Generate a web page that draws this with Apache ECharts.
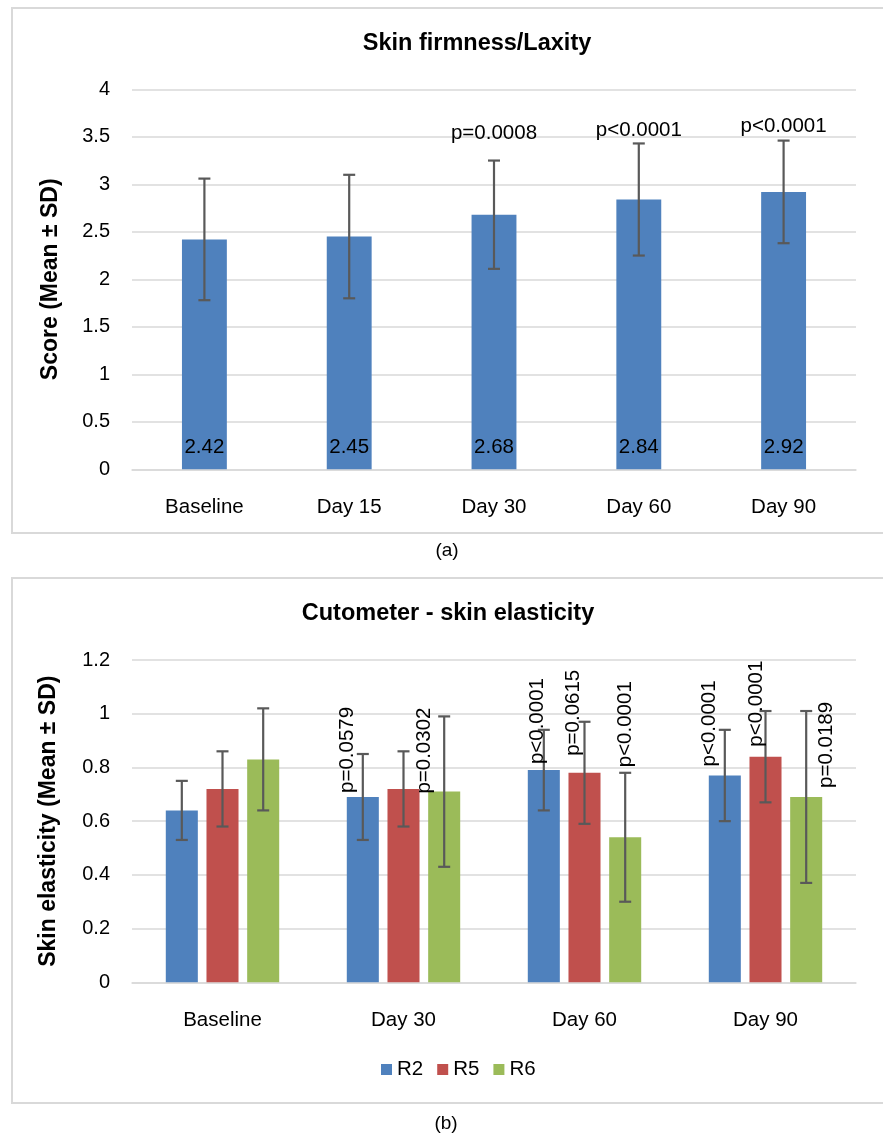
<!DOCTYPE html>
<html>
<head>
<meta charset="utf-8">
<script src="https://cdn.jsdelivr.net/npm/echarts@6/dist/echarts.min.js"></script>
<style>
  html, body { margin: 0; padding: 0; background: #ffffff; }
  #chart { width: 883px; height: 1135px; }
</style>
</head>
<body>
<div id="chart"></div>
<script>
// ---- Panel (a): skin firmness / laxity score ----
const firmCategories = ['Baseline', 'Day 15', 'Day 30', 'Day 60', 'Day 90'];
const firmMean = [2.42, 2.45, 2.68, 2.84, 2.92];
const firmSD = [0.64, 0.65, 0.57, 0.59, 0.54];
const firmP = ['', '', 'p=0.0008', 'p<0.0001', 'p<0.0001'];

// ---- Panel (b): cutometer skin elasticity ----
const elasCategories = ['Baseline', 'Day 30', 'Day 60', 'Day 90'];
const elasNames = ['R2', 'R5', 'R6'];
const r2Mean = [0.64, 0.69, 0.79, 0.77];
const r2SD = [0.11, 0.16, 0.15, 0.17];
const r5Mean = [0.72, 0.72, 0.78, 0.84];
const r5SD = [0.14, 0.14, 0.19, 0.17];
const r6Mean = [0.83, 0.71, 0.54, 0.69];
const r6SD = [0.19, 0.28, 0.24, 0.32];
const r2P = ['', 'p=0.0579', 'p<0.0001', 'p<0.0001'];
const r5P = ['', '', 'p=0.0615', 'p<0.0001'];
const r6P = ['', 'p=0.0302', 'p<0.0001', 'p=0.0189'];

// label placement tweaks (pixels): [dx from bar centre, dy from anchor]
const firmPShift = [[0, 0], [0, 0], [0, -27], [0, -13], [0, -14]];
const r2PShift = [[0, 0], [-15, -4], [-6, -6], [-15, -9]];
const r5PShift = [[0, 0], [0, 0], [-11, -17], [-9, -10]];
const r6PShift = [[0, 0], [-20, 2], [0, -70], [20, -9]];

const FS = 20.5;
const GRID_LINE = '#d9d9d9';
const ERR_COLOR = '#595959';
const COLORS = ['#4f81bd', '#c0504d', '#9bbb59'];

const A_BAR = 0.31;                 // bar width share of a category, panel (a)
const B_BAR = 0.177;                // bar width share of a category, panel (b)
const B_GAP = 0.27;                 // gap between bars, relative to bar width

function errData(mean, sd) {
  return mean.map((m, i) => [i, m - sd[i], m + sd[i], m]);
}

const font = 'Liberation Sans, Arial, sans-serif';

// error bar (mean ± SD) plus an optional p-value annotation
function errRenderer(nSeries, idx, barShare, gapShare, pTexts, shifts, vertical) {
  return function (params, api) {
    const cat = api.value(0);
    const lo = api.coord([cat, api.value(1)]);
    const hi = api.coord([cat, api.value(2)]);
    const top = api.coord([cat, api.value(3)]);
    const catW = api.size([1, 0])[0];
    const bw = catW * barShare;
    const x = lo[0] + (idx - (nSeries - 1) / 2) * bw * (1 + gapShare);
    const cap = 6;
    const st = { stroke: ERR_COLOR, lineWidth: 2.2 };
    const children = [
      { type: 'line', shape: { x1: x, y1: hi[1], x2: x, y2: lo[1] }, style: st },
      { type: 'line', shape: { x1: x - cap, y1: hi[1], x2: x + cap, y2: hi[1] }, style: st },
      { type: 'line', shape: { x1: x - cap, y1: lo[1], x2: x + cap, y2: lo[1] }, style: st }
    ];
    const txt = pTexts[params.dataIndex];
    if (txt) {
      const s = shifts[params.dataIndex];
      if (vertical) {
        children.push({
          type: 'text', x: x + s[0], y: top[1] + s[1], rotation: Math.PI / 2,
          style: { text: txt, fontSize: FS, fontFamily: font,
                   fill: '#000', align: 'left', verticalAlign: 'middle' }
        });
      } else {
        children.push({
          type: 'text', x: x + s[0], y: hi[1] + s[1],
          style: { text: txt, fontSize: FS, fontFamily: font,
                   fill: '#000', align: 'center', verticalAlign: 'middle' }
        });
      }
    }
    return { type: 'group', children: children };
  };
}

const chart = echarts.init(document.getElementById('chart'), null, { renderer: 'canvas' });

const elasMeans = [r2Mean, r5Mean, r6Mean];
const elasSDs = [r2SD, r5SD, r6SD];
const elasPs = [r2P, r5P, r6P];
const elasShifts = [r2PShift, r5PShift, r6PShift];

const series = [
  {
    type: 'bar', xAxisIndex: 0, yAxisIndex: 0, data: firmMean,
    barWidth: (A_BAR * 100) + '%', itemStyle: { color: COLORS[0] },
    label: { show: true, position: 'insideBottom', distance: 11, color: '#000',
             fontSize: FS, fontFamily: font, formatter: p => p.value.toFixed(2) },
    silent: true
  },
  {
    type: 'custom', xAxisIndex: 0, yAxisIndex: 0, z: 5,
    data: errData(firmMean, firmSD),
    encode: { x: 0, y: [1, 2] },
    renderItem: errRenderer(1, 0, A_BAR, 0, firmP, firmPShift, false),
    silent: true
  }
];

elasNames.forEach((name, k) => {
  series.push({
    type: 'bar', name: name, xAxisIndex: 1, yAxisIndex: 1, data: elasMeans[k],
    barWidth: (B_BAR * 100) + '%', barGap: (B_GAP * 100) + '%',
    itemStyle: { color: COLORS[k] }, silent: true
  });
});
elasNames.forEach((name, k) => {
  series.push({
    type: 'custom', xAxisIndex: 1, yAxisIndex: 1, z: 5,
    data: errData(elasMeans[k], elasSDs[k]),
    encode: { x: 0, y: [1, 2] },
    renderItem: errRenderer(3, k, B_BAR, B_GAP, elasPs[k], elasShifts[k], true),
    silent: true
  });
});

const axisLabelStyle = { color: '#000', fontSize: FS, fontFamily: font };

chart.setOption({
  animation: false,
  backgroundColor: '#ffffff',
  color: COLORS,
  grid: [
    { left: 132, right: 27, top: 89.3, height: 380 },
    { left: 132, right: 27, top: 660, height: 322.3 }
  ],
  xAxis: [
    {
      type: 'category', gridIndex: 0, data: firmCategories,
      axisLine: { lineStyle: { color: GRID_LINE, width: 1.5 } },
      axisTick: { show: false },
      axisLabel: Object.assign({ margin: 28 }, axisLabelStyle)
    },
    {
      type: 'category', gridIndex: 1, data: elasCategories,
      axisLine: { lineStyle: { color: GRID_LINE, width: 1.5 } },
      axisTick: { show: false },
      axisLabel: Object.assign({ margin: 28 }, axisLabelStyle)
    }
  ],
  yAxis: [
    {
      type: 'value', gridIndex: 0, min: 0, max: 4, interval: 0.5,
      name: 'Score (Mean ± SD)', nameLocation: 'middle', nameGap: 70, nameRotate: 90,
      nameTextStyle: { fontSize: 23, fontWeight: 'bold', color: '#000', fontFamily: font },
      axisLine: { show: false }, axisTick: { show: false },
      splitLine: { lineStyle: { color: GRID_LINE, width: 1.5 } },
      axisLabel: Object.assign({ margin: 22 }, axisLabelStyle, { fontSize: 20 })
    },
    {
      type: 'value', gridIndex: 1, min: 0, max: 1.2, interval: 0.2,
      name: 'Skin elasticity (Mean ± SD)', nameLocation: 'middle', nameGap: 72, nameRotate: 90,
      nameTextStyle: { fontSize: 23, fontWeight: 'bold', color: '#000', fontFamily: font },
      axisLine: { show: false }, axisTick: { show: false },
      splitLine: { lineStyle: { color: GRID_LINE, width: 1.5 } },
      axisLabel: Object.assign({ margin: 22, formatter: v => String(+v.toFixed(1)) },
                               axisLabelStyle, { fontSize: 20 })
    }
  ],
  legend: {
    data: elasNames, left: 376, top: 1054, icon: 'rect',
    itemWidth: 11, itemHeight: 11, itemGap: 14,
    textStyle: { color: '#000', fontSize: FS, fontFamily: font }
  },
  graphic: [
    { type: 'rect', shape: { x: 12, y: 8, width: 875, height: 525 },
      style: { fill: 'none', stroke: GRID_LINE, lineWidth: 2 }, silent: true },
    { type: 'rect', shape: { x: 12, y: 578, width: 875, height: 525 },
      style: { fill: 'none', stroke: GRID_LINE, lineWidth: 2 }, silent: true },
    { type: 'text', x: 477, y: 44,
      style: { text: 'Skin firmness/Laxity', fontSize: 23.5, fontWeight: 'bold', fill: '#000',
               fontFamily: font, align: 'center', verticalAlign: 'middle' } },
    { type: 'text', x: 448, y: 614,
      style: { text: 'Cutometer - skin elasticity', fontSize: 23.5, fontWeight: 'bold', fill: '#000',
               fontFamily: font, align: 'center', verticalAlign: 'middle' } },
    { type: 'text', x: 447, y: 551,
      style: { text: '(a)', fontSize: 19, fill: '#000', fontFamily: font,
               align: 'center', verticalAlign: 'middle' } },
    { type: 'text', x: 446, y: 1124,
      style: { text: '(b)', fontSize: 19, fill: '#000', fontFamily: font,
               align: 'center', verticalAlign: 'middle' } }
  ],
  series: series
});
</script>
</body>
</html>
